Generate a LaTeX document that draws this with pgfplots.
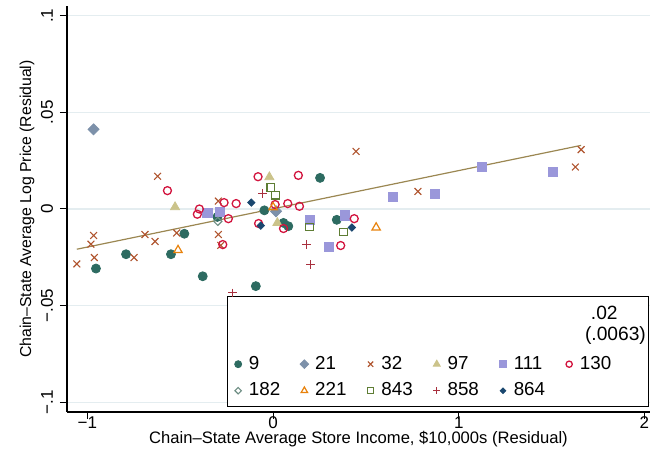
\documentclass[border=0pt]{standalone}
\usepackage{pgfplots}
\pgfplotsset{compat=1.18}
\usepackage{fontspec}
\setmainfont{Liberation Sans}
\usetikzlibrary{plotmarks}

\definecolor{cnine}{HTML}{2D6B61}
\definecolor{ctwentyone}{HTML}{7D91AA}
\definecolor{cthirtytwo}{HTML}{B0552F}
\definecolor{cninetyseven}{HTML}{CBC38A}
\definecolor{conelevenone}{HTML}{9A97DA}
\definecolor{conethirty}{HTML}{D2143E}
\definecolor{coneeightytwo}{HTML}{6E8E84}
\definecolor{ctwotwentyone}{HTML}{E8820C}
\definecolor{ceightfortythree}{HTML}{5E7D34}
\definecolor{ceightfiftyeight}{HTML}{A8303E}
\definecolor{ceightsixtyfour}{HTML}{1A476F}
\definecolor{cfit}{HTML}{9B8752}
\definecolor{cgrid}{HTML}{E4EDF0}

\begin{document}
\begin{tikzpicture}
\begin{axis}[
  at={(0,0)}, anchor=south west,
  scale only axis, width=291.5pt, height=203pt,
  xmin=-1.11, xmax=2.03, ymin=-0.105, ymax=0.105,
  axis x line*=bottom, axis y line*=left,
  axis line style={line width=0.6pt, black},
  xtick={-1,0,1,2}, xticklabels={−1,0,1,2},
  ytick={-0.1,-0.05,0,0.05,0.1}, yticklabels={−.1,−.05,0,.05,.1},
  tick align=outside, major tick length=3.5pt,
  tick style={black, line width=0.5pt},
  ymajorgrids, grid style={cgrid, line width=0.7pt},
  ticklabel style={font=\fontsize{8.5}{10}\selectfont},
  xticklabel style={yshift=4.6pt},
  yticklabel style={rotate=90, anchor=south},
  xlabel={Chain–State Average Store Income, \$10,000s (Residual)},
  ylabel={Chain–State Average Log Price (Residual)},
  xlabel style={font=\fontsize{8.3}{10}\selectfont, at={(axis description cs:0.5,-0.0665)}, anchor=center},
  ylabel style={font=\fontsize{7.9}{10}\selectfont, at={(axis description cs:-0.0686,0.5)}, anchor=center},
  only marks,
  legend columns=6,
  legend image code/.code={%
    \path (0pt,0pt) (7.4pt,0pt);
    \draw[mark repeat=2,mark phase=2,#1] plot coordinates {(0pt,0pt)(3pt,0pt)(6pt,0pt)};},
  legend image post style={every mark/.append style={scale=0.78}},
  legend style={draw=none, fill=none, at={(axis cs:-0.257,-0.073)}, anchor=north west,
    font=\fontsize{9.4}{10}\selectfont, nodes={inner sep=0.8pt},
    /tikz/column sep=0pt, row sep=3.6pt},
]
% least-squares fit line
\addplot[cfit, line width=0.6pt, sharp plot, no marks, forget plot] coordinates {(-1.057,-0.0208) (1.659,0.0329)};

% chain 9
\addplot[mark=*, mark size=2.25pt, mark options={draw=cnine, fill=cnine}] coordinates {
(-0.954,-0.0308) (-0.792,-0.0234) (-0.550,-0.0234) (-0.478,-0.0128) (-0.300,-0.0041)
(-0.379,-0.0348) (-0.093,-0.0399) (-0.047,-0.0007) (0.056,-0.0072) (0.082,-0.0089)
(0.253,0.0161) (0.343,-0.0056)};
\addlegendentry{\makebox[23.7pt][l]{9}}
% chain 21
\addplot[mark=square*, mark size=1.95pt, mark options={draw=ctwentyone, fill=ctwentyone, rotate=45}] coordinates {
(-0.967,0.0412) (0.016,-0.0012)};
\addlegendentry{\makebox[23.7pt][l]{21}}
% chain 32
\addplot[mark=x, mark size=2.4pt, mark options={draw=cthirtytwo, line width=0.55pt}] coordinates {
(-1.057,-0.0284) (-0.981,-0.0182) (-0.967,-0.0137) (-0.963,-0.0251) (-0.749,-0.0251)
(-0.690,-0.0132) (-0.636,-0.0168) (-0.622,0.0169) (-0.519,-0.0124) (-0.295,0.0041)
(-0.295,-0.0132) (-0.282,-0.0188) (0.447,0.0298) (0.780,0.0091) (1.628,0.0217)
(1.659,0.0307)};
\addlegendentry{\makebox[23.7pt][l]{32}}
% chain 97
\addplot[mark=triangle*, mark size=2.6pt, mark options={draw=cninetyseven, fill=cninetyseven}] coordinates {
(-0.528,0.0010) (-0.020,0.0165) (0.023,-0.0072)};
\addlegendentry{\makebox[23.7pt][l]{97}}
% chain 111
\addplot[mark=square*, mark size=2.3pt, mark options={draw=conelevenone, fill=conelevenone}] coordinates {
(-0.354,-0.0021) (-0.286,-0.0016) (0.199,-0.0055) (0.388,-0.0033) (0.299,-0.0196)
(0.645,0.0062) (0.873,0.0078) (1.125,0.0217) (1.506,0.0191)};
\addlegendentry{\makebox[23.7pt][l]{111}}
% chain 130
\addplot[mark=o, mark size=2.0pt, mark options={draw=conethirty, line width=0.65pt}] coordinates {
(-0.569,0.0095) (-0.397,0.0000) (-0.408,-0.0027) (-0.264,0.0033) (-0.199,0.0028)
(-0.241,-0.0050) (-0.271,-0.0184) (-0.081,0.0167) (-0.078,-0.0075) (0.011,0.0023)
(0.079,0.0028) (0.142,0.0014) (0.136,0.0174) (0.056,-0.0101) (0.437,-0.0050)
(0.364,-0.0189)};
\addlegendentry{\makebox[23.7pt][l]{130}}
% chain 182
\addplot[mark=square, mark size=1.45pt, mark options={draw=coneeightytwo, line width=0.55pt, rotate=45}] coordinates {
(-0.298,-0.0064)};
\addlegendentry{\makebox[23.7pt][l]{182}}
% chain 221
\addplot[mark=triangle, mark size=2.4pt, mark options={draw=ctwotwentyone, line width=0.6pt}] coordinates {
(-0.512,-0.0213) (0.555,-0.0096) (0.000,0.0009)};
\addlegendentry{\makebox[23.7pt][l]{221}}
% chain 843
\addplot[mark=square, mark size=1.9pt, mark options={draw=ceightfortythree, line width=0.6pt}] coordinates {
(-0.012,0.0111) (0.012,0.0071) (0.196,-0.0093) (0.379,-0.0119)};
\addlegendentry{\makebox[23.7pt][l]{843}}
% chain 858
\addplot[mark=+, mark size=2.2pt, mark options={draw=ceightfiftyeight, line width=0.55pt}] coordinates {
(-0.057,0.0080) (0.181,-0.0183) (0.203,-0.0287) (-0.217,-0.0434)};
\addlegendentry{\makebox[23.7pt][l]{858}}
% chain 864
\addplot[mark=square*, mark size=1.3pt, mark options={draw=ceightsixtyfour, fill=ceightsixtyfour, rotate=45}] coordinates {
(-0.117,0.0033) (-0.066,-0.0086) (0.424,-0.0096)};
\addlegendentry{\makebox[23.7pt][l]{864}}

% legend frame and slope annotation
\draw[black, line width=0.5pt, fill=white] (axis cs:-0.248,-0.0451) rectangle (axis cs:2.02,-0.102);
\node[font=\fontsize{9.6}{10}\selectfont, inner sep=0pt] at (axis cs:1.784,-0.0539) {.02};
\node[font=\fontsize{9.6}{10}\selectfont, inner sep=0pt] at (axis cs:1.844,-0.0653) {(.0063)};
\end{axis}
\pgfresetboundingbox
\path[use as bounding box] (-33.5pt,-24pt) rectangle (291.5pt,206pt);
\end{tikzpicture}
\end{document}
